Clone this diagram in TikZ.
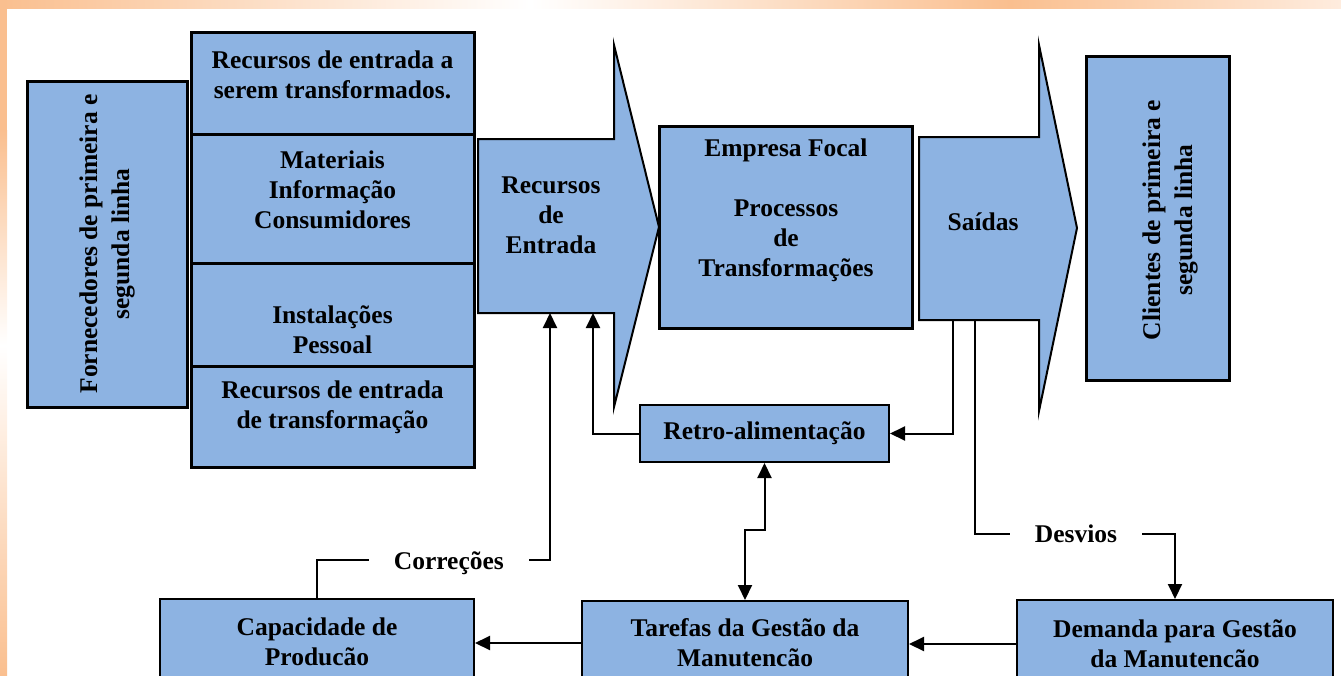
\documentclass[tikz,border=0pt]{standalone}
\usepackage{fontspec}
\setmainfont{Liberation Serif}
\usetikzlibrary{arrows.meta}

\definecolor{boxblue}{RGB}{141,179,226}
\definecolor{bandorange}{RGB}{250,191,143}
\definecolor{bandlight}{RGB}{254,236,222}

\tikzset{
  blockbox/.style={draw, line width=3pt, fill=boxblue, inner sep=0pt, align=center,
    font=\bfseries\fontsize{25.5}{30}\selectfont},
  thinbox/.style={blockbox, line width=2pt},
  boxtext/.style={inner sep=0pt, align=center, font=\bfseries\fontsize{25.5}{30}\selectfont},
  sidetext/.style={font=\bfseries\fontsize{25.5}{32}\selectfont},
  flowarrow/.style={draw, line width=2pt, fill=boxblue},
  conn/.style={line width=2pt, -{Triangle[length=15pt,width=14pt]}},
  dconn/.style={line width=2pt, {Triangle[length=15pt,width=14pt]}-{Triangle[length=15pt,width=14pt]}},
  gaplabel/.style={boxtext, fill=white, inner xsep=25pt, inner ysep=2pt}
}

\begin{document}
\begin{tikzpicture}[x=1pt, y=-1pt]
    \useasboundingbox (0,0) rectangle (1341,675);
    \clip (0,0) rectangle (1341,675);

    % Add the orange frame
    \shade[left color=bandorange, right color=white] (0,0) rectangle (530,8.5);
    \shade[left color=white, right color=bandorange] (530,0) rectangle (1010,8.5);
    \shade[left color=bandorange, right color=bandlight] (1010,0) rectangle (1341,8.5);
    \fill[bandorange] (0,0) rectangle (7,130);
    \shade[top color=bandorange, bottom color=white] (0,130) rectangle (7,345);
    \shade[top color=white, bottom color=bandorange] (0,345) rectangle (7,675);

    % Add the suppliers
    \node[blockbox, sidetext, rotate=90, minimum width=326pt, minimum height=160pt] (forn) at (107,244)
      {Fornecedores de primeira e\\segunda linha};

    % Add the stack of input resources
    \node[blockbox, minimum width=283pt, minimum height=102pt] (in1) at (332.5,83) {};
    \node[boxtext] (in1t) at (332.5,74.5) {Recursos de entrada a\\serem transformados.};
    \node[blockbox, minimum width=283pt, minimum height=129pt] (in2) at (332.5,198.5) {};
    \node[boxtext] (in2t) at (332.5,190) {Materiais\\Informação\\Consumidores};
    \node[blockbox, minimum width=283pt, minimum height=103pt] (in3) at (332.5,314.5) {};
    \node[boxtext] (in3t) at (332.5,330) {Instalações\\Pessoal};
    \node[blockbox, minimum width=283pt, minimum height=101pt] (in4) at (332.5,416.5) {};
    \node[boxtext] (in4t) at (332.5,407) {Recursos de entrada\\de transformação};

    % Add the input arrow
    \draw[flowarrow] (478,139) -- (614,139) -- (614,45) -- (659,227) -- (614,407) -- (614,313) -- (478,313) -- cycle;
    \node[boxtext] (inlbl) at (551,215) {Recursos\\de\\Entrada};
    \coordinate (inB1) at (550,313);
    \coordinate (inB2) at (593,313);

    % Add the focal company
    \node[blockbox, minimum width=253pt, minimum height=202pt] (emp) at (785.5,227) {};
    \node[boxtext] (empt) at (786,210) {Empresa Focal\\[30pt]Processos\\de\\Transformações};

    % Add the output arrow
    \draw[flowarrow] (919,137) -- (1039,137) -- (1039,45) -- (1077,228) -- (1039,411) -- (1039,320) -- (919,320) -- cycle;
    \node[boxtext] (outlbl) at (983,222) {Saídas};
    \coordinate (outB1) at (953,320);
    \coordinate (outB2) at (975,320);

    % Add the customers
    \node[blockbox, rotate=90, minimum width=324pt, minimum height=143pt] (cli) at (1157.5,218) {};
    \node[boxtext, sidetext, rotate=90] (clit) at (1170,220) {Clientes de primeira e\\segunda linha};

    % Add the feedback and maintenance boxes
    \node[thinbox, minimum width=249pt, minimum height=57pt] (retro) at (764.5,433.5) {Retro-alimentação};
    \node[thinbox, minimum width=314pt, minimum height=86pt] (cap) at (317,642) {Capacidade de\\Producão};
    \node[thinbox, minimum width=326pt, minimum height=84pt] (tar) at (745,643) {Tarefas da Gestão da\\Manutencão};
    \node[thinbox, minimum width=316pt, minimum height=88pt] (dem) at (1175,644) {Demanda para Gestão\\da Manutencão};

    % Add the connectors
    \coordinate (corrC) at (550,560);
    \coordinate (desvC) at (1175,534);
    \draw[conn] (retro.west) -| (inB2);
    \draw[conn] (outB1) |- (retro.east);
    \draw[conn] (cap.north) |- node[gaplabel, pos=0.783, yshift=-3pt] (corr) {Correções} (corrC) -- (inB1);
    \draw[conn] (outB2) |- node[gaplabel, pos=0.7525] (desv) {Desvios} (desvC) -- (dem.north);
    \draw[dconn] (tar.north) -- ++(0,-70) -| (retro.south);
    \draw[conn] (dem.west) -- (tar.east |- dem.west);
    \draw[conn] (tar.west) -- (cap.east |- tar.west);
\end{tikzpicture}
\end{document}
